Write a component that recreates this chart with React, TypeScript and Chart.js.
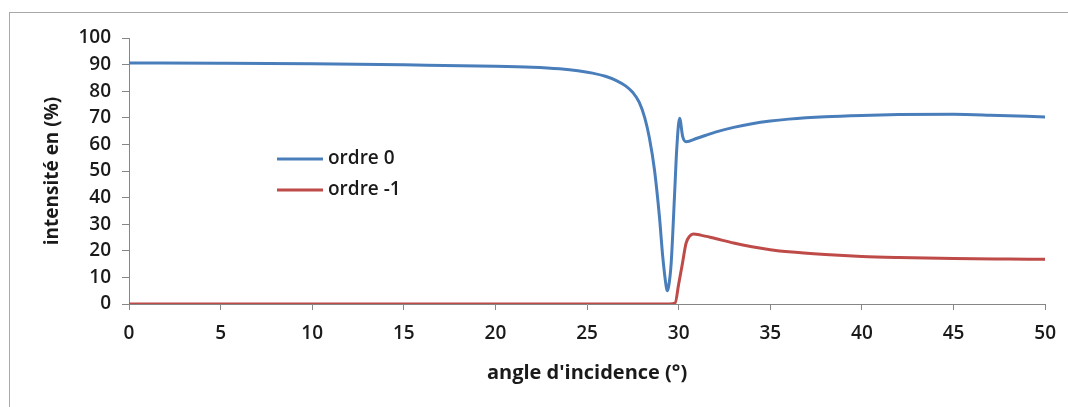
import React, { useEffect, useRef } from "react";
import { Chart, registerables } from "chart.js";

Chart.register(...registerables);

const seriesLabels = ["ordre 0", "ordre -1"];

const order0Angles = [0, 5, 10, 15, 20, 22, 23.5, 24.5, 25.3, 26, 26.6, 27.1, 27.5, 27.85, 28.15, 28.4, 28.68, 28.95, 29.13, 29.32, 29.37, 29.45, 29.59, 29.77, 29.9, 30.05, 30.22, 30.4, 31, 32, 33, 34, 35, 36, 38, 40, 42, 45, 47, 50];
const order0Values = [90.6, 90.5, 90.3, 89.9, 89.4, 89.0, 88.4, 87.7, 86.8, 85.6, 84.0, 82.0, 79.5, 75.8, 70.0, 62.5, 50.4, 32.8, 17.8, 6.5, 5.0, 6.5, 15.3, 40.3, 59.0, 69.8, 62.9, 61.0, 62.3, 64.6, 66.4, 67.8, 68.8, 69.5, 70.4, 70.9, 71.2, 71.3, 71.0, 70.3];

const orderM1Angles = [0, 10, 20, 29.5, 29.8, 30.0, 30.2, 30.4, 30.6, 30.8, 31.2, 32, 33, 34, 35, 36, 38, 40, 42, 45, 48, 50];
const orderM1Values = [0, 0, 0, 0, 0.3, 7.5, 15.0, 22.8, 25.5, 26.3, 25.9, 24.6, 22.9, 21.5, 20.4, 19.6, 18.6, 17.9, 17.5, 17.1, 16.9, 16.8];

const xMin = 0;
const xMax = 50;
const xStep = 5;
const yMin = 0;
const yMax = 100;
const yStep = 10;

const xTitle = "angle d'incidence (°)";
const yTitle = "intensité en (%)";

const BLUE = "#4A7EBB";
const RED = "#BE4B48";
const AXIS = "#868686";
const TEXT = "#1a1a1a";
const FONT = "'Open Sans', 'Lato', sans-serif";

const insideLegend = {
  id: "insideLegend",
  afterDraw(chart: any) {
    const ctx = chart.ctx;
    chart.data.datasets.forEach((ds: any, i: number) => {
      const y = 159 + i * 31;
      ctx.save();
      ctx.strokeStyle = ds.borderColor;
      ctx.lineWidth = 3;
      ctx.beginPath();
      ctx.moveTo(277, y);
      ctx.lineTo(323, y);
      ctx.stroke();
      ctx.fillStyle = TEXT;
      ctx.font = `600 19px ${FONT}`;
      ctx.textBaseline = "middle";
      ctx.textAlign = "left";
      ctx.fillText(ds.label, 328, y);
      ctx.restore();
    });
  },
};

export default function App() {
  const ref = useRef<HTMLCanvasElement | null>(null);

  useEffect(() => {
    if (!ref.current) return;
    const toPoints = (xs: number[], ys: number[]) => xs.map((x, i) => ({ x, y: ys[i] }));
    const chart = new Chart(ref.current, {
      type: "line",
      data: {
        datasets: [
          {
            label: seriesLabels[0],
            data: toPoints(order0Angles, order0Values),
            borderColor: BLUE,
            backgroundColor: BLUE,
            borderWidth: 3,
            pointRadius: 0,
            cubicInterpolationMode: "monotone",
          },
          {
            label: seriesLabels[1],
            data: toPoints(orderM1Angles, orderM1Values),
            borderColor: RED,
            backgroundColor: RED,
            borderWidth: 3,
            pointRadius: 0,
            cubicInterpolationMode: "monotone",
          },
        ],
      },
      options: {
        responsive: false,
        animation: false,
        layout: { padding: { top: 38, right: 22, bottom: 0, left: 0 } },
        plugins: {
          legend: { display: false },
          tooltip: { enabled: false },
        },
        scales: {
          x: {
            type: "linear",
            min: xMin,
            max: xMax,
            afterFit: (s: any) => {
              s.height = 103;
            },
            ticks: {
              stepSize: xStep,
              autoSkip: false,
              maxRotation: 0,
              padding: 12,
              color: TEXT,
              font: { family: FONT, size: 19, weight: "600" },
            },
            grid: {
              drawOnChartArea: false,
              drawTicks: true,
              tickLength: 6,
              color: AXIS,
            },
            border: { display: true, color: AXIS, width: 1 },
            title: {
              display: true,
              text: xTitle,
              color: TEXT,
              font: { family: FONT, size: 20, weight: "bold" },
              padding: { top: 0, bottom: 22 },
            },
          },
          y: {
            type: "linear",
            min: yMin,
            max: yMax,
            afterFit: (s: any) => {
              s.width = 129;
            },
            ticks: {
              stepSize: yStep,
              padding: 11,
              color: TEXT,
              font: { family: FONT, size: 19, weight: "600" },
            },
            grid: {
              drawOnChartArea: false,
              drawTicks: true,
              tickLength: 7,
              color: AXIS,
            },
            border: { display: true, color: AXIS, width: 1 },
            title: {
              display: true,
              text: yTitle,
              color: TEXT,
              font: { family: FONT, size: 19, weight: "bold" },
              padding: { top: 41, bottom: 0 },
            },
          },
        },
      },
      plugins: [insideLegend],
    });
    return () => chart.destroy();
  }, []);

  return (
    <div
      style={{
        position: "absolute",
        left: 0,
        top: 0,
        width: 1068,
        height: 407,
        overflow: "hidden",
        background: "#fff",
      }}
    >
      <div
        style={{
          position: "absolute",
          left: 9,
          top: 12,
          width: 1200,
          height: 600,
          border: "1px solid #a8a8a8",
        }}
      />
      <canvas
        ref={ref}
        width={1068}
        height={407}
        style={{ position: "absolute", left: 0, top: 0 }}
      />
    </div>
  );
}
